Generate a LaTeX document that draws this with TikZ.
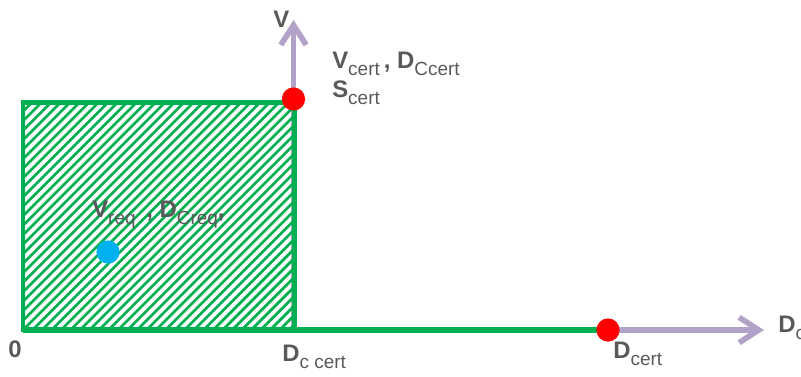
\documentclass[tikz,border=0pt]{standalone}
\usepackage{fontspec}
\setmainfont{Liberation Sans}
\usetikzlibrary{arrows.meta}
\definecolor{areagreen}{RGB}{0,176,80}
\definecolor{axislilac}{RGB}{179,162,199}
\definecolor{certred}{RGB}{255,0,0}
\definecolor{reqblue}{RGB}{0,176,240}
\definecolor{labelgray}{RGB}{89,89,89}
\newcommand{\symsub}[2]{{\bfseries #1}\raisebox{-5pt}{\fontsize{13.5pt}{14pt}\selectfont #2}}

\begin{document}
\begin{tikzpicture}[x=0.025cm, y=-0.025cm,
  font=\fontsize{17pt}{20pt}\selectfont,
  lbl/.style={anchor=base west, inner sep=0pt, text=labelgray},
  axis/.style={-{Straight Barb[length=14pt, width=18pt]}, line width=4pt,
               axislilac},
  dot/.style={circle, inner sep=0pt, minimum size=16.5pt}]
  \useasboundingbox (0,0) rectangle (801,376);
  \clip (0,0) rectangle (801,376);

  \coordinate (orig) at (23,330);
  \coordinate (ctop) at (294.5,102.5);
  \coordinate (ccert) at (294.5,330);
  \coordinate (vbase) at (293.5,330);
  \coordinate (vend) at (293.5,20);
  \coordinate (dend) at (764,330);

  \node[dot] (vcert) at (293.5,99) {};
  \node[dot] (dcert) at (608,330) {};

  \draw[axis] (vbase) -- (vend);
  \draw[axis] (orig) -- (dend);

  \begin{scope}
    \clip (orig) rectangle (ctop);
    \foreach \k in {0,...,54} {
      \draw[areagreen, line width=2pt] ({\k*9.5-210}, 335) -- ++(240,-240);
    }
  \end{scope}
  \draw[areagreen, line width=3.2pt] (orig) rectangle (ctop);
  \draw[areagreen, line width=4.2pt] (orig) -- (dcert.center);

  \node[dot, fill=certred] at (vcert) {};
  \node[dot, fill=certred] at (dcert) {};
  \node[dot, fill=reqblue] (req) at (108,252) {};

  \node[lbl] (vlabel) at (273,27) {\bfseries V};
  \node[lbl] (dlabel) at (778,332) {\symsub{D}{c}};
  \node[lbl] (zero) at (8,357) {\bfseries 0};
  \node[lbl] (cclabel) at (282,361) {\symsub{D}{c cert}};
  \node[lbl] (dclabel) at (613,358) {\symsub{D}{cert}};
  \node[lbl] (certtop) at (332,68) {\symsub{V}{cert}\,\textbf{,} \symsub{D}{Ccert}};
  \node[lbl] (scert) at (332,97) {\symsub{S}{cert}};
  \node[lbl] (reqlabel) at (92,217)
    {\symsub{V}{req}\, \textbf{,} \symsub{D}{Creq}\textbf{,}};
\end{tikzpicture}
\end{document}
